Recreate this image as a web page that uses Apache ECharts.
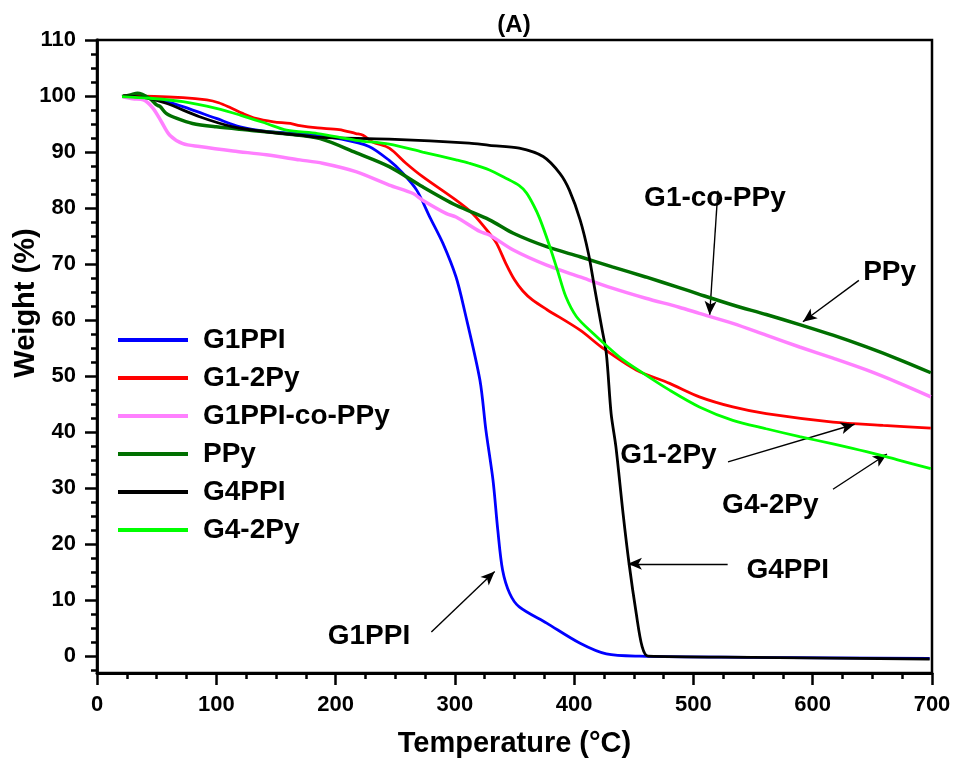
<!DOCTYPE html>
<html>
<head>
<meta charset="utf-8">
<script src="https://cdn.jsdelivr.net/npm/echarts@6/dist/echarts.min.js"></script>
<style>
html,body{margin:0;padding:0;background:#fff;}
#chart{width:959px;height:763px;}
</style>
</head>
<body>
<div id="chart"></div>
<script>
// ---------- data ----------
const seriesNames = ['G1PPI', 'G1-2Py', 'G1PPI-co-PPy', 'PPy', 'G4PPI', 'G4-2Py'];
const seriesColors = ['#0000ff', '#ff0000', '#ff80ff', '#007000', '#000000', '#00ff00'];

const G1PPI = [[22,100],[40,99.8],[58,99.0],[72,98.1],[100,96.0],[120,94.5],[142,93.7],[175,93.2],[205,92.3],[228,91.0],[245,88.5],[256,86.3],[268,83.2],[279,78.4],[290,73.7],[301,67.7],[308,61.8],[321,49.3],[326,40.4],[332,31.4],[336,22.5],[340,15.4],[346,11.2],[354,8.8],[377,5.9],[405,2.3],[427,0.4],[455,0],[550,-0.2],[698,-0.4]];
const G1_2Py = [[22,100],[30,100],[72,99.7],[92,99.3],[102,98.8],[112,97.9],[122,96.9],[133,96.0],[148,95.4],[162,95.1],[170,94.7],[185,94.3],[203,94.0],[217,93.3],[223,93.0],[231,91.8],[245,90.7],[259,88.0],[273,85.6],[301,81.4],[315,79.0],[329,75.5],[335,73.7],[343,70.0],[350,67.2],[357,65.2],[365,63.6],[377,61.9],[405,58.2],[424,55.0],[452,51.1],[480,48.7],[505,46.3],[533,44.5],[561,43.3],[617,41.8],[659,41.2],[699,40.7]];
const G1PPI_co_PPy = [[22,99.8],[30,99.5],[39,99.3],[47,97.8],[54,95.4],[61,93.0],[72,91.5],[86,91.0],[114,90.2],[142,89.5],[170,88.6],[189,88.0],[217,86.5],[245,84.1],[265,82.6],[273,81.4],[293,79.0],[301,78.4],[321,75.8],[329,75.2],[349,72.5],[377,69.8],[405,67.7],[432,65.7],[460,63.9],[488,62.3],[505,61.2],[533,59.4],[561,57.3],[589,55.2],[617,53.2],[645,51.1],[672,48.8],[699,46.3]];
const PPy = [[21,99.9],[28,100.2],[34,100.5],[44,99.6],[50,98.4],[53,98.1],[58,96.9],[67,96.0],[80,95.1],[100,94.5],[128,93.9],[156,93.3],[187,92.4],[217,89.9],[245,87.4],[273,83.8],[301,80.5],[329,77.9],[349,75.5],[377,73.1],[405,71.3],[432,69.5],[460,67.7],[488,65.8],[505,64.6],[533,62.7],[561,61.0],[589,59.2],[617,57.3],[645,55.2],[672,53.0],[699,50.6]];
const G4PPI = [[22,100],[40,99.7],[58,98.7],[86,96.3],[114,94.5],[142,93.6],[170,93.0],[187,92.6],[245,92.3],[312,91.6],[329,91.2],[354,90.7],[374,89.2],[388,86.2],[396,83.2],[405,77.9],[412,71.9],[417,65.9],[423,58.8],[427,54.0],[431,43.3],[435,37.4],[441,25.5],[446,16.6],[452,7.7],[457,1.7],[462,0],[550,-0.2],[698,-0.5]];
const G4_2Py = [[21,99.9],[44,99.6],[72,99.0],[100,97.8],[120,96.6],[142,95.1],[159,93.9],[185,93.3],[217,92.1],[245,91.4],[273,90.0],[301,88.6],[312,88.0],[329,86.8],[342,85.4],[354,84.0],[360,82.7],[366,80.5],[371,78.2],[379,73.5],[386,68.9],[393,64.2],[402,60.6],[416,57.6],[438,53.4],[458,50.5],[480,47.5],[505,44.5],[533,42.1],[561,40.6],[589,39.2],[617,37.9],[645,36.5],[672,35.0],[699,33.5]];
const seriesData = [G1PPI, G1_2Py, G1PPI_co_PPy, PPy, G4PPI, G4_2Py];

const xTicks = [0, 100, 200, 300, 400, 500, 600, 700];
const yTicks = [0, 10, 20, 30, 40, 50, 60, 70, 80, 90, 100, 110];
const yMinorTicks = [-2.5, 2.5, 5, 7.5, 12.5, 15, 17.5, 22.5, 25, 27.5, 32.5, 35, 37.5, 42.5, 45, 47.5, 52.5, 55, 57.5, 62.5, 65, 67.5, 72.5, 75, 77.5, 82.5, 85, 87.5, 92.5, 95, 97.5, 102.5, 105, 107.5];

// annotations: label position, arrow start, arrow end (data coordinates)
const annText = ['G1-co-PPy', 'PPy', 'G1-2Py', 'G4-2Py', 'G4PPI', 'G1PPI'];
const annAt = [[518, 81.8], [664.5, 68.6], [479, 35.9], [564.5, 27.0], [579, 15.4], [228, 3.6]];
const annFrom = [[520.5, 83.1], [638.7, 67.1], [529, 34.7], [617, 29.8], [528.7, 16.5], [280.3, 4.3]];
const annTo = [[513.6, 60.9], [591.8, 59.7], [635.1, 41.4], [662.2, 36.1], [445.1, 16.5], [333.4, 15.1]];

// ---------- chart ----------
const FONT = '"Liberation Sans", Arial, Helvetica, sans-serif';
const chart = echarts.init(document.getElementById('chart'), null, {renderer: 'canvas'});

const lineSeries = seriesNames.map((n, i) => ({
  name: n,
  type: 'line',
  data: seriesData[i],
  smooth: 0.3,
  symbol: 'none',
  showSymbol: false,
  lineStyle: {color: seriesColors[i], width: (i === 2 || i === 3) ? 3.5 : 2.8},
  itemStyle: {color: seriesColors[i]},
  z: 3 + i,
  silent: true
}));

const annSeries = {
  type: 'scatter',
  data: annText.map((t, i) => ({value: annAt[i], label: {formatter: t}})),
  symbolSize: 1,
  itemStyle: {color: 'rgba(0,0,0,0)'},
  label: {show: true, position: 'inside', color: '#000', opacity: 1, textBorderWidth: 0, textShadowBlur: 0,
    fontFamily: FONT, fontWeight: 'bold', fontSize: 28},
  silent: true,
  z: 20,
  markLine: {
    silent: true,
    symbol: ['none', 'arrow'],
    symbolSize: [9, 14],
    label: {show: false},
    lineStyle: {color: '#000', width: 1.4, type: 'solid', opacity: 1},
    data: annFrom.map((f, i) => [{coord: f}, {coord: annTo[i]}])
  }
};

const option = {
  backgroundColor: '#fff',
  animation: false,
  title: {
    text: '(A)', left: 509, top: 8, textAlign: 'center',
    textStyle: {fontFamily: FONT, fontWeight: 'bold', fontSize: 24, color: '#000'}
  },
  grid: {left: 97, right: 27, top: 40, bottom: 90, show: true, borderColor: '#000', borderWidth: 2.5, backgroundColor: 'transparent'},
  legend: {
    orient: 'vertical', left: 118, top: 325, itemGap: 8, padding: 0,
    itemWidth: 70, itemHeight: 4,
    icon: 'rect',
    data: seriesNames,
    textStyle: {fontFamily: FONT, fontWeight: 'bold', fontSize: 28, color: '#000', lineHeight: 30, padding: [0, 0, 0, 10]},
    selectedMode: false
  },
  xAxis: {
    type: 'value', min: 0, max: 700, interval: 100,
    axisLine: {show: true, onZero: false, lineStyle: {color: '#000', width: 2.8}},
    axisTick: {show: true, length: 12, lineStyle: {color: '#000', width: 2.5}},
    minorTick: {show: true, splitNumber: 4, length: 6, lineStyle: {color: '#000', width: 2.5}},
    splitLine: {show: false},
    minorSplitLine: {show: false},
    axisLabel: {margin: 21, color: '#000', fontFamily: FONT, fontWeight: 'bold', fontSize: 22,
      customValues: xTicks},
    name: 'Temperature (\u00b0C)', nameLocation: 'middle', nameGap: 56,
    nameTextStyle: {fontFamily: FONT, fontWeight: 'bold', fontSize: 29, color: '#000'}
  },
  yAxis: [{
    type: 'value', min: -3, max: 110,
    axisLine: {show: true, onZero: false, lineStyle: {color: '#000', width: 2.8}},
    axisTick: {show: true, length: 12, lineStyle: {color: '#000', width: 2.5}, customValues: yTicks},
    splitLine: {show: false},
    axisLabel: {margin: 21, color: '#000', fontFamily: FONT, fontWeight: 'bold', fontSize: 22, customValues: yTicks}
  }, {
    type: 'value', min: -3, max: 110, position: 'left',
    axisLine: {show: false},
    axisTick: {show: true, length: 6, lineStyle: {color: '#000', width: 2.5}, customValues: yMinorTicks},
    axisLabel: {show: false},
    splitLine: {show: false}
  }],
  graphic: [{
    type: 'text', x: 26, y: 303, rotation: Math.PI / 2,
    style: {text: 'Weight (%)', fontFamily: FONT, fontWeight: 'bold', fontSize: 29, fill: '#000', textAlign: 'center', textVerticalAlign: 'middle'}
  }],
  series: lineSeries.concat([annSeries])
};
chart.setOption(option);
</script>
</body>
</html>
